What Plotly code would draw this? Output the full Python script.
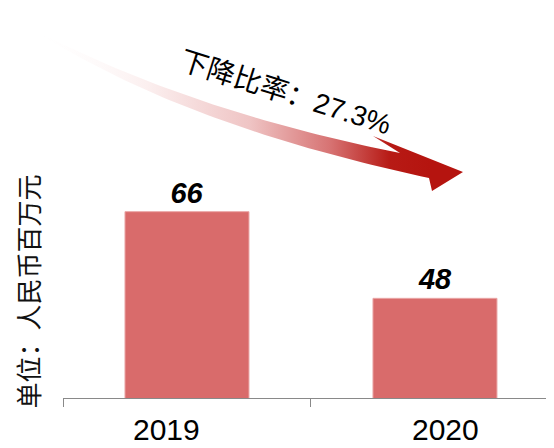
import numpy as np
import plotly.graph_objects as go

# ---- data ----
categories = ["2019", "2020"]
values = [66, 48]
drop_label = "下降比率：27.3%"
unit_label = "单位：人民币百万元"

# page body has an 8px margin; figure fills the rest of the 554x448 window
OFF = 8
W, H = 554 - OFF, 448 - OFF
BAR_COLOR = "#d96b6b"
LABEL_SHIFT = [-20, 11]   # horizontal nudge of category labels, px


def pxx(sx):  # screen x -> paper fraction
    return (sx - OFF) / W


def pxy(sy):  # screen y -> paper fraction
    return 1 - (sy - OFF) / H


fig = go.Figure()

fig.add_trace(go.Bar(
    x=categories, y=values, width=0.5,
    marker=dict(color=BAR_COLOR, line=dict(color="#eaa6a6", width=1)),
    text=[str(v) for v in values], textposition="outside",
    textfont=dict(family="Liberation Sans, Arial", size=29, color="black",
                  weight="bold", style="italic"),
    cliponaxis=False, showlegend=False, hoverinfo="skip",
))

# ---- decorative curved gradient arrow (screen-pixel overlay) ----
def qbez(p0, p1, p2, n=60):
    t = np.linspace(0, 1, n)[:, None]
    p0, p1, p2 = map(np.array, (p0, p1, p2))
    return (1 - t) ** 2 * p0 + 2 * (1 - t) * t * p1 + t ** 2 * p2

upper = qbez((30, 28), (192, 112), (400, 153))
lower = qbez((30, 28), (180, 125), (429, 178))[::-1]
head = np.array([(373, 136), (463, 172), (432, 191)])
poly = np.vstack([upper, head, lower])

fig.add_trace(go.Scatter(
    x=poly[:, 0], y=poly[:, 1], xaxis="x2", yaxis="y2",
    mode="lines", line=dict(width=0), fill="toself",
    fillgradient=dict(type="horizontal", start=30, stop=430,
                      colorscale=[[0, "rgba(255,255,255,0)"], [0.3, "#fbeeee"],
                                  [0.55, "#efc4c4"], [0.75, "#d77373"],
                                  [0.9, "#b71a15"], [1, "#b5140f"]]),
    showlegend=False, hoverinfo="skip",
))

annotations = [
    dict(text=drop_label, x=pxx(285), y=pxy(92), xref="paper", yref="paper",
         xanchor="center", yanchor="middle",
         showarrow=False, textangle=17.5,
         font=dict(family="Liberation Sans, Noto Sans CJK SC", size=28, color="black")),
    dict(text=unit_label, x=pxx(27), y=pxy(291.5), xref="paper", yref="paper",
         xanchor="center", yanchor="middle",
         showarrow=False, textangle=-90,
         font=dict(family="Noto Sans CJK SC", size=26, color="#111")),
]
for i, (cat, shift) in enumerate(zip(categories, LABEL_SHIFT)):
    annotations.append(dict(
        text=cat, x=i, xref="x", y=pxy(429), yref="paper",
        xanchor="center", yanchor="middle", xshift=shift, showarrow=False,
        borderpad=0,
        font=dict(family="Liberation Sans, Arial", size=30, color="black")))

fig.update_layout(
    width=W, height=H, template="none",
    margin=dict(l=0, r=0, t=0, b=0),
    paper_bgcolor="white", plot_bgcolor="rgba(0,0,0,0)",
    xaxis=dict(domain=[pxx(63), 1], type="category", range=[-0.5, 1.48],
               showline=True, linecolor="#898989", linewidth=1,
               ticks="outside", tickson="boundaries", ticklen=8,
               tickcolor="#898989", showgrid=False, zeroline=False,
               showticklabels=False, automargin=False),
    yaxis=dict(domain=[pxy(398), 1], range=[27.3, 108.3], visible=False,
               showgrid=False, automargin=False),
    xaxis2=dict(domain=[0, 1], range=[OFF, OFF + W], visible=False, anchor="y2"),
    yaxis2=dict(domain=[0, 1], range=[OFF + H, OFF], visible=False, anchor="x2"),
    annotations=annotations,
)

fig.write_html("out.html")
